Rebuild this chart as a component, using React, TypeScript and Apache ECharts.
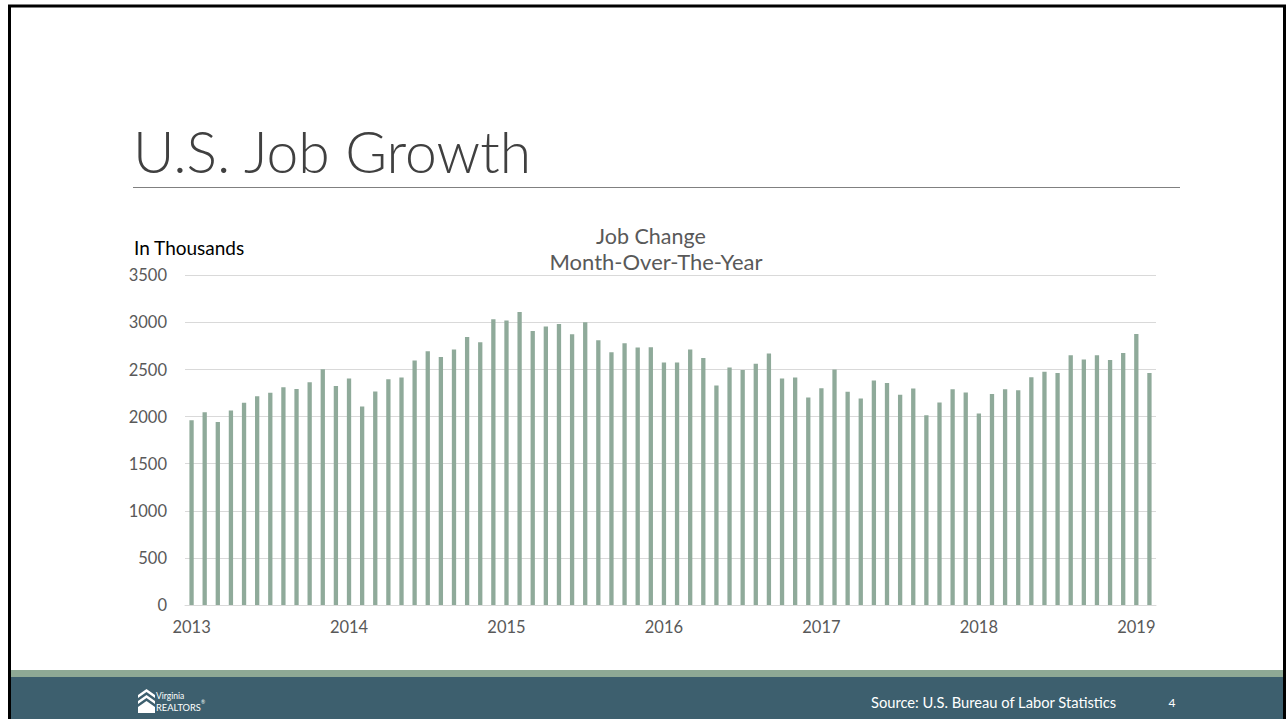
import React, { useEffect, useRef } from "react";
import * as echarts from "echarts";

const yearLabels = ["2013", "2014", "2015", "2016", "2017", "2018", "2019"];
const monthNames = ["Jan", "Feb", "Mar", "Apr", "May", "Jun", "Jul", "Aug", "Sep", "Oct", "Nov", "Dec"];

const jobs2013 = [1960, 2047, 1944, 2065, 2146, 2217, 2252, 2312, 2294, 2365, 2503, 2326];
const jobs2014 = [2404, 2107, 2266, 2397, 2415, 2595, 2694, 2634, 2712, 2846, 2789, 3033];
const jobs2015 = [3019, 3111, 2910, 2956, 2984, 2874, 3001, 2811, 2683, 2779, 2733, 2736];
const jobs2016 = [2574, 2574, 2712, 2623, 2330, 2521, 2496, 2560, 2669, 2404, 2415, 2203];
const jobs2017 = [2301, 2500, 2263, 2192, 2383, 2358, 2231, 2298, 2015, 2149, 2291, 2255];
const jobs2018 = [2033, 2241, 2291, 2280, 2418, 2475, 2464, 2652, 2605, 2652, 2602, 2676];
const jobs2019 = [2878, 2464];

const jobChange = [...jobs2013, ...jobs2014, ...jobs2015, ...jobs2016, ...jobs2017, ...jobs2018, ...jobs2019];
const categories = jobChange.map((_, i) => `${monthNames[i % 12]} ${yearLabels[Math.floor(i / 12)]}`);
const yTicks = [0, 500, 1000, 1500, 2000, 2500, 3000, 3500];

const FONT = "Lato, 'Open Sans', sans-serif";

export default function App() {
  const ref = useRef<HTMLDivElement>(null);
  useEffect(() => {
    if (!ref.current) return;
    const chart = echarts.init(ref.current, null, { renderer: "svg" });
    const option: any = {
      animation: false,
      backgroundColor: "#ffffff",
      textStyle: { fontFamily: FONT },
      grid: { left: 185, right: 130, top: 275.3, bottom: 114, containLabel: false },
      xAxis: {
        type: "category",
        data: categories,
        axisLine: { show: true, lineStyle: { color: "#D9D9D9", width: 1 } },
        axisTick: { show: false },
        axisLabel: {
          interval: (idx: number) => idx % 12 === 0,
          formatter: (v: string) => v.split(" ")[1],
          color: "#595959",
          fontSize: 16.5,
          fontFamily: FONT,
          margin: 13,
        },
        splitLine: { show: false },
      },
      yAxis: {
        type: "value",
        min: yTicks[0],
        max: yTicks[yTicks.length - 1],
        interval: 500,
        axisLine: { show: false },
        axisTick: { show: false },
        axisLabel: {
          color: "#595959",
          fontSize: 16.5,
          fontFamily: FONT,
          margin: 18,
          formatter: (v: number) => String(v),
        },
        splitLine: { lineStyle: { color: "#D9D9D9", width: 1 } },
      },
      series: [
        {
          type: "bar",
          data: jobChange,
          barWidth: 4.3,
          itemStyle: { color: "#8FAA9A" },
        },
      ],
      graphic: [
        // slide frame
        { type: "rect", shape: { x: 9.5, y: 6, width: 1275, height: 720 }, style: { fill: "none", stroke: "#000", lineWidth: 3 }, z: 100 },
        // title
        { type: "text", x: 133, y: 151, style: { text: "U.S. Job Growth", fontFamily: FONT, fontWeight: 300, fontSize: 57, fill: "#404040", textVerticalAlign: "middle" } },
        { type: "line", shape: { x1: 133, y1: 187.5, x2: 1180, y2: 187.5 }, style: { stroke: "#808080", lineWidth: 1 } },
        // chart titles
        { type: "text", x: 651, y: 236, style: { text: "Job Change", fontFamily: FONT, fontSize: 21.5, fill: "#595959", textAlign: "center", textVerticalAlign: "middle" } },
        { type: "text", x: 656, y: 261, style: { text: "Month-Over-The-Year", fontFamily: FONT, fontSize: 22, fill: "#595959", textAlign: "center", textVerticalAlign: "middle" } },
        { type: "text", x: 134, y: 247, style: { text: "In Thousands", fontFamily: FONT, fontSize: 19, fill: "#000000", textVerticalAlign: "middle" } },
        // footer
        { type: "rect", shape: { x: 11, y: 670, width: 1272, height: 7 }, style: { fill: "#8EA995" } },
        { type: "rect", shape: { x: 11, y: 677, width: 1272, height: 42 }, style: { fill: "#3D5F6E" } },
        // logo
        { type: "polygon", shape: { points: [[146.5, 689], [155, 695], [155, 698], [146.5, 692], [138, 698], [138, 695]] }, style: { fill: "#ffffff" } },
        { type: "polygon", shape: { points: [[146.5, 695], [155, 701], [155, 704], [146.5, 698], [138, 704], [138, 701]] }, style: { fill: "#ffffff" } },
        { type: "polygon", shape: { points: [[146.5, 701], [155, 707], [155, 713], [138, 713], [138, 707]] }, style: { fill: "#ffffff" } },
        { type: "text", x: 156, y: 696, style: { text: "Virginia", fontFamily: FONT, fontSize: 8.5, fill: "#ffffff", textVerticalAlign: "middle" } },
        { type: "text", x: 156, y: 707.5, style: { text: "REALTORS", fontFamily: FONT, fontSize: 9.3, fill: "#ffffff", textVerticalAlign: "middle" } },
        { type: "text", x: 201, y: 702, style: { text: "®", fontFamily: FONT, fontSize: 5, fill: "#ffffff", textVerticalAlign: "middle" } },
        // source + page number
        { type: "text", x: 871, y: 702, style: { text: "Source: U.S. Bureau of Labor Statistics", fontFamily: FONT, fontSize: 14.7, fill: "#ffffff", textVerticalAlign: "middle" } },
        { type: "text", x: 1172, y: 702, style: { text: "4", fontFamily: FONT, fontSize: 12, fill: "#ffffff", textAlign: "center", textVerticalAlign: "middle" } },
      ],
    };
    chart.setOption(option);
    return () => chart.dispose();
  }, []);
  return <div ref={ref} style={{ position: "absolute", left: 0, top: 0, width: 1286, height: 719 }} />;
}
